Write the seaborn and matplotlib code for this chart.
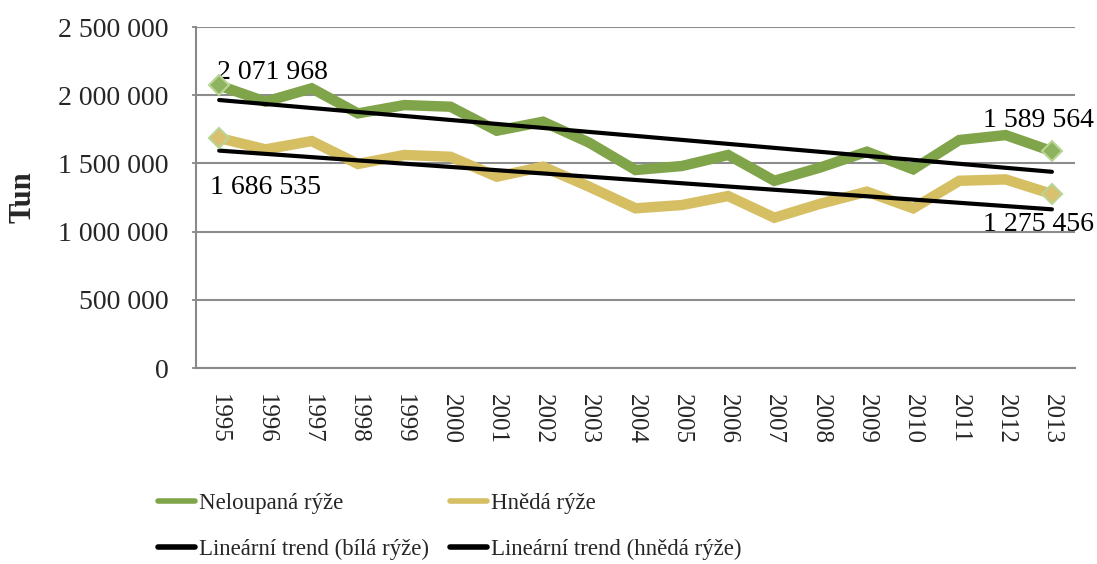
import matplotlib
matplotlib.use("Agg")
import matplotlib.pyplot as plt
import matplotlib.ticker as mticker
import seaborn as sns
import numpy as np
import pandas as pd

# production of rice, tonnes
years = list(range(1995, 2014))
neloupana = [2071968, 1953000, 2051000, 1867000, 1928000, 1916000, 1740000,
             1806000, 1652000, 1452000, 1481000, 1562000, 1373000, 1471000,
             1586000, 1457000, 1672000, 1708000, 1589564]
hneda = [1686535, 1603000, 1664000, 1496000, 1562000, 1549000, 1403000,
         1476000, 1329000, 1171000, 1195000, 1261000, 1102000, 1205000,
         1293000, 1171000, 1373000, 1383000, 1275456]

series_names = ['Neloupaná rýže', 'Hnědá rýže']
trend_names = ['Lineární trend (bílá rýže)', 'Lineární trend (hnědá rýže)']
line_colors = ['#80A44A', '#D6BE62']
marker_faces = ['#8DB35E', '#D9C170']

def fmt(v):
    return f"{v:,.0f}".replace(",", " ")

sns.set_style("white")
plt.rcParams['font.family'] = ['Liberation Serif', 'DejaVu Serif']

fig = plt.figure(figsize=(10.97, 5.64), dpi=100)
ax = fig.add_axes([0.1787, 0.3475, 0.8013, 0.6045])

df = pd.DataFrame({'rok': years, series_names[0]: neloupana, series_names[1]: hneda})

handles = []
for name, col, mf in zip(series_names, line_colors, marker_faces):
    sns.lineplot(data=df, x='rok', y=name, ax=ax, color=col, lw=7.5, zorder=3,
                 solid_joinstyle='miter')
    h = ax.lines[-1]
    # end markers
    ends = df.iloc[[0, -1]]
    ax.plot(ends['rok'], ends[name], ls='none', marker='D', ms=10, mfc=mf,
            mec='#B9D596', mew=1.5, zorder=5)
    handles.append(h)

trend_handles = []
for name in series_names:
    k, q = np.polyfit(df['rok'], df[name], 1)
    df['trend_' + name] = k * df['rok'] + q
    sns.lineplot(data=df, x='rok', y='trend_' + name, ax=ax, color='black',
                 lw=3, zorder=4)
    trend_handles.append(ax.lines[-1])

# data labels at the first and last year
lab_kw = dict(textcoords='offset pixels', fontsize=20, va='center', color='black')
ax.annotate(fmt(neloupana[0]), (years[0], neloupana[0]), xytext=(-2, 13), ha='left', **lab_kw)
ax.annotate(fmt(hneda[0]), (years[0], hneda[0]), xytext=(-9, -49), ha='left', **lab_kw)
ax.annotate(fmt(neloupana[-1]), (years[-1], neloupana[-1]), xytext=(42, 31), ha='right', **lab_kw)
ax.annotate(fmt(hneda[-1]), (years[-1], hneda[-1]), xytext=(42, -30), ha='right', **lab_kw)

ax.set_xlim(1994.5, 2013.5)
ax.set_ylim(0, 2500000)
ax.set_yticks(np.arange(0, 2500001, 500000))
ax.yaxis.set_major_formatter(mticker.FuncFormatter(lambda v, p: fmt(v)))
ax.set_xticks(years)
ax.set_xticklabels([str(y) for y in years], rotation=-90, fontsize=18)
ax.tick_params(axis='x', length=0, pad=19)
ax.tick_params(axis='y', length=3, width=1.3, color='#898989', pad=17,
               labelsize=20, direction='out', left=True)

ax.grid(axis='y', color='#8C8C8C', lw=1.5)
ax.set_axisbelow(True)
for s in ['top', 'right']:
    ax.spines[s].set_visible(False)
for s in ['left', 'bottom']:
    ax.spines[s].set_color('#898989')
    ax.spines[s].set_linewidth(1.5)

ax.set_xlabel('')
ax.set_ylabel('Tun', fontsize=22, fontweight='bold')
ax.yaxis.set_label_coords(-0.18, 0.5)

leg = fig.legend([handles[0], trend_handles[0], handles[1], trend_handles[1]],
                 [series_names[0], trend_names[0], series_names[1], trend_names[1]],
                 loc='upper left', bbox_to_anchor=(158 / 1097, 1 - 493 / 564),
                 ncol=2, frameon=False, borderaxespad=0, borderpad=0,
                 prop={'size': 16.5}, handlelength=1.6, handletextpad=0.2,
                 columnspacing=0.9, labelspacing=1.1)
for line in leg.get_lines():
    line.set_linewidth(4)

fig.savefig('out.png', dpi=100)
